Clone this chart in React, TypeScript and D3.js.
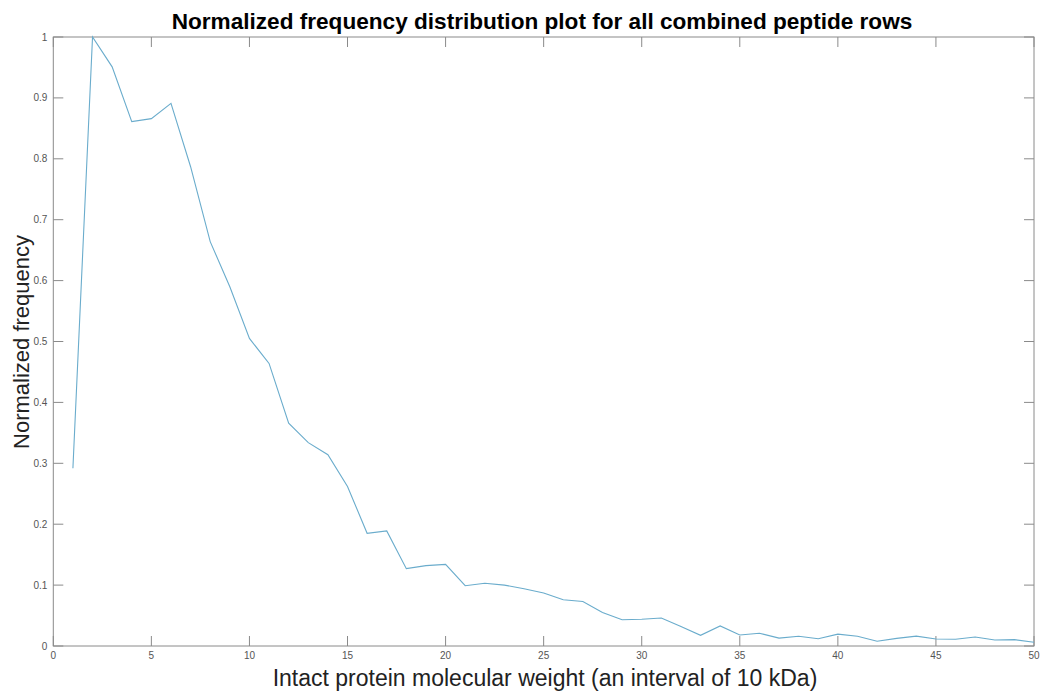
import React from "react";
import * as d3 from "d3";

const weightBins: number[] = Array.from({ length: 50 }, (_, i) => i + 1);
const normalizedFrequency: number[] = [
  0.292, 1.0, 0.951, 0.861, 0.866, 0.891, 0.787, 0.664, 0.59, 0.505,
  0.464, 0.366, 0.334, 0.314, 0.262, 0.185, 0.189, 0.127, 0.132, 0.134,
  0.099, 0.103, 0.1, 0.094, 0.087, 0.076, 0.073, 0.055, 0.043, 0.044,
  0.046, 0.032, 0.0175, 0.033, 0.018, 0.021, 0.013, 0.016, 0.012, 0.0195,
  0.016, 0.0078, 0.0125, 0.0162, 0.0115, 0.011, 0.0148, 0.0099, 0.0104, 0.0062,
];
const xTicks: number[] = [0, 5, 10, 15, 20, 25, 30, 35, 40, 45, 50];
const yTicks: number[] = [0, 0.1, 0.2, 0.3, 0.4, 0.5, 0.6, 0.7, 0.8, 0.9, 1];

const titleText = "Normalized frequency distribution plot for all combined peptide rows";
const xLabel = "Intact protein molecular weight (an interval of 10 kDa)";
const yLabel = "Normalized frequency";

const W = 1041;
const H = 692;
const left = 53.3;
const right = 1034;
const top = 37;
const bottom = 646;

export default function App() {
  const x = d3.scaleLinear().domain([0, 50]).range([left, right]);
  const y = d3.scaleLinear().domain([0, 1]).range([bottom, top]);
  const line = d3
    .line<number>()
    .x((_, i) => x(weightBins[i]))
    .y((d) => y(d));
  const font = "'Liberation Sans', Arial, Helvetica, sans-serif";
  const axisColor = "#8a8a8a";
  const tickLen = 10;
  return (
    <svg
      width={W}
      height={H}
      style={{ position: "absolute", left: 0, top: 0, background: "#fff" }}
      fontFamily={font}
    >
      <rect x={0} y={0} width={W} height={H} fill="#fff" />
      <text x={542} y={29} textAnchor="middle" fontSize={22.6} fontWeight="bold" fill="#000">
        {titleText}
      </text>
      <rect
        x={left}
        y={top}
        width={right - left}
        height={bottom - top}
        fill="none"
        stroke={axisColor}
        strokeWidth={1}
      />
      {xTicks.map((t) => (
        <g key={"x" + t}>
          <line x1={x(t)} x2={x(t)} y1={bottom} y2={bottom - tickLen} stroke={axisColor} />
          <line x1={x(t)} x2={x(t)} y1={top} y2={top + tickLen} stroke={axisColor} />
          <text x={x(t)} y={bottom + 13} textAnchor="middle" fontSize={10} fill="#555">
            {t}
          </text>
        </g>
      ))}
      {yTicks.map((t) => (
        <g key={"y" + t}>
          <line x1={left} x2={left + tickLen} y1={y(t)} y2={y(t)} stroke={axisColor} />
          <line x1={right} x2={right - tickLen} y1={y(t)} y2={y(t)} stroke={axisColor} />
          <text x={left - 6} y={y(t) + 3.5} textAnchor="end" fontSize={10} fill="#555">
            {t}
          </text>
        </g>
      ))}
      <path
        d={line(normalizedFrequency) || ""}
        fill="none"
        stroke="#6aaccc"
        strokeWidth={1.1}
      />
      <text x={545} y={686} textAnchor="middle" fontSize={23} fill="#222">
        {xLabel}
      </text>
      <text
        transform={`translate(29, 342) rotate(-90)`}
        textAnchor="middle"
        fontSize={22}
        fill="#222"
      >
        {yLabel}
      </text>
    </svg>
  );
}
